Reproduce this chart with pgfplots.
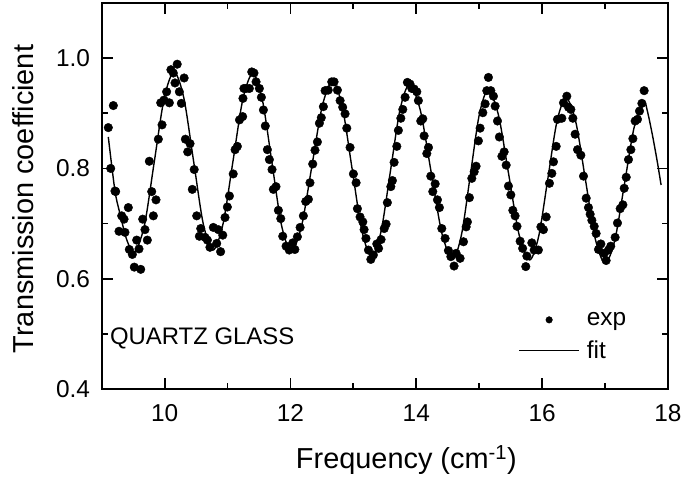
\documentclass[border=0pt]{standalone}
\usepackage{fontspec}
\setmainfont{Liberation Sans}
\usepackage{pgfplots}
\pgfplotsset{compat=1.18}
\begin{document}
\begin{tikzpicture}
\begin{axis}[
  scale only axis,
  width=566.3bp, height=386bp,
  xmin=9, xmax=18, ymin=0.4, ymax=1.1,
  xtick={10,12,14,16,18},
  ytick={0.4,0.6,0.8,1.0},
  minor x tick num=1,
  minor y tick num=1,
  tick align=inside,
  major tick length=11bp,
  minor tick length=6bp,
  axis line style={line width=1.8bp},
  every tick/.style={line width=1.8bp, black},
  /pgf/number format/assume math mode=true,
  ticklabel style={font=\fontsize{24.5}{28}\selectfont},
  xticklabel style={anchor=base, yshift=-33bp},
  yticklabel style={/pgf/number format/fixed, /pgf/number format/fixed zerofill, /pgf/number format/precision=1, anchor=east, inner sep=0pt, xshift=-11.5bp},
  xlabel={Frequency (cm\textsuperscript{-1})},
  ylabel={Transmission coefficient},
  label style={font=\fontsize{29}{34}\selectfont},
  xlabel style={at={(axis description cs:0.538,-0.2047)}, anchor=base},
  ylabel style={at={(axis description cs:-0.1208,0.492)}, anchor=base},
  legend style={draw=none, fill=none, at={(axis cs:15.62,0.539)}, anchor=north west,
    font=\fontsize{24.5}{28}\selectfont, inner sep=0pt, row sep=14bp, column sep=7bp,
    nodes={inner sep=0pt}},
  legend cell align=left,
]
\coordinate (sw) at (rel axis cs:0,0);
\coordinate (ne) at (rel axis cs:1,1);
\addplot[only marks, mark=*, mark size=4.3bp, black,
  legend image code/.code={\path[draw=none, fill=none] (0bp,0bp) -- (60bp,0bp); \fill[black] (30bp,0bp) circle (3.3bp);}]
coordinates {
(9.105,0.874) (9.143,0.800) (9.185,0.914) (9.211,0.759) (9.222,0.758) (9.275,0.686)
(9.318,0.714) (9.355,0.708) (9.370,0.684) (9.423,0.729) (9.439,0.653) (9.487,0.644)
(9.518,0.621) (9.556,0.670) (9.593,0.654) (9.620,0.617) (9.652,0.708) (9.688,0.689)
(9.725,0.670) (9.757,0.813) (9.795,0.758) (9.821,0.714) (9.863,0.743) (9.900,0.853)
(9.938,0.919) (9.959,0.879) (9.990,0.924) (10.032,0.939) (10.075,0.919) (10.100,0.979)
(10.138,0.973) (10.165,0.955) (10.200,0.989) (10.234,0.939) (10.266,0.918) (10.310,0.964)
(10.330,0.853) (10.367,0.830) (10.404,0.845) (10.440,0.762) (10.470,0.798) (10.510,0.714)
(10.552,0.677) (10.574,0.691) (10.642,0.675) (10.680,0.670) (10.720,0.657) (10.774,0.693)
(10.828,0.664) (10.853,0.689) (10.890,0.649) (10.924,0.679) (10.960,0.711) (10.997,0.730)
(11.030,0.750) (11.090,0.790) (11.120,0.834) (11.156,0.840) (11.190,0.888) (11.240,0.894)
(11.245,0.927) (11.260,0.945) (11.294,0.945) (11.347,0.945) (11.385,0.975) (11.420,0.973)
(11.453,0.957) (11.506,0.945) (11.538,0.929) (11.570,0.906) (11.600,0.877) (11.633,0.834)
(11.665,0.816) (11.707,0.798) (11.728,0.762) (11.770,0.767) (11.808,0.724) (11.846,0.709)
(11.877,0.677) (11.930,0.659) (11.980,0.652) (12.036,0.665) (12.070,0.653) (12.110,0.676)
(12.153,0.693) (12.205,0.714) (12.243,0.740) (12.285,0.744) (12.310,0.774) (12.354,0.808)
(12.390,0.833) (12.428,0.848) (12.460,0.882) (12.490,0.892) (12.523,0.912) (12.550,0.941)
(12.600,0.942) (12.656,0.957) (12.693,0.957) (12.746,0.942) (12.789,0.923) (12.830,0.911)
(12.868,0.899) (12.895,0.873) (12.947,0.838) (13.000,0.790) (13.043,0.774) (13.064,0.727)
(13.106,0.712) (13.150,0.703) (13.170,0.689) (13.200,0.673) (13.239,0.652) (13.277,0.635)
(13.318,0.643) (13.372,0.663) (13.400,0.655) (13.440,0.671) (13.490,0.691) (13.520,0.699)
(13.540,0.738) (13.595,0.767) (13.620,0.778) (13.647,0.811) (13.690,0.840) (13.715,0.869)
(13.754,0.891) (13.785,0.907) (13.822,0.929) (13.858,0.956) (13.900,0.953) (13.928,0.945)
(13.965,0.944) (14.008,0.939) (14.033,0.923) (14.071,0.886) (14.103,0.890) (14.124,0.859)
(14.167,0.827) (14.193,0.838) (14.230,0.786) (14.262,0.758) (14.300,0.772) (14.336,0.743)
(14.367,0.729) (14.405,0.691) (14.458,0.673) (14.510,0.651) (14.549,0.640) (14.600,0.623)
(14.633,0.646) (14.696,0.637) (14.750,0.667) (14.792,0.694) (14.812,0.703) (14.844,0.747)
(14.882,0.782) (14.920,0.794) (14.950,0.804) (14.987,0.850) (15.014,0.873) (15.057,0.901)
(15.094,0.917) (15.120,0.941) (15.146,0.965) (15.184,0.941) (15.226,0.931) (15.253,0.913)
(15.290,0.886) (15.320,0.857) (15.360,0.822) (15.396,0.830) (15.428,0.806) (15.464,0.768)
(15.502,0.752) (15.534,0.724) (15.570,0.714) (15.600,0.695) (15.650,0.668) (15.690,0.655)
(15.740,0.622) (15.757,0.641) (15.836,0.665) (15.873,0.652) (15.940,0.652) (15.980,0.694)
(16.020,0.689) (16.064,0.712) (16.116,0.773) (16.154,0.791) (16.180,0.812) (16.223,0.840)
(16.243,0.889) (16.313,0.891) (16.339,0.919) (16.392,0.931) (16.418,0.911) (16.456,0.907)
(16.488,0.891) (16.524,0.862) (16.562,0.834) (16.615,0.824) (16.657,0.786) (16.700,0.746)
(16.736,0.729) (16.763,0.717) (16.790,0.706) (16.827,0.695) (16.858,0.682) (16.895,0.653)
(16.933,0.663) (16.986,0.646) (17.017,0.633) (17.054,0.652) (17.090,0.659) (17.160,0.675)
(17.197,0.701) (17.240,0.727) (17.283,0.734) (17.304,0.764) (17.336,0.784) (17.372,0.816)
(17.410,0.834) (17.442,0.854) (17.478,0.886) (17.515,0.889) (17.547,0.904) (17.585,0.918)
(17.621,0.941)
};
\addlegendentry{exp}
\addplot[smooth, black, line width=1.4bp, mark=none,
  legend image code/.code={\draw[black, line width=1.4bp] (0bp,0bp) -- (60bp,0bp);}]
coordinates {
(9.105,0.857) (9.21,0.760) (9.29,0.718) (9.40,0.670) (9.52,0.648)
(9.6775,0.696) (9.835,0.8115) (9.9925,0.927) (10.15,0.975)
(10.305,0.928) (10.46,0.8135) (10.615,0.699) (10.77,0.652)
(10.9275,0.699) (11.085,0.812) (11.2425,0.925) (11.40,0.972)
(11.5525,0.925) (11.705,0.811) (11.8575,0.697) (12.01,0.650)
(12.175,0.695) (12.34,0.804) (12.505,0.913) (12.67,0.958)
(12.825,0.911) (12.98,0.799) (13.135,0.687) (13.29,0.640)
(13.44,0.686) (13.59,0.796) (13.74,0.906) (13.89,0.952)
(14.0625,0.906) (14.235,0.794) (14.4075,0.682) (14.58,0.636)
(14.72,0.681) (14.86,0.789) (15.00,0.897) (15.14,0.942)
(15.305,0.897) (15.47,0.788) (15.635,0.679) (15.80,0.634)
(15.945,0.677) (16.09,0.781) (16.235,0.885) (16.38,0.928)
(16.535,0.884) (16.69,0.778) (16.845,0.672) (17.00,0.628)
(17.155,0.670) (17.31,0.773) (17.465,0.876) (17.62,0.918)
(17.67,0.905) (17.75,0.862) (17.83,0.812) (17.89,0.770)
};
\addlegendentry{fit}
\node[anchor=base west, inner sep=0pt, font=\fontsize{24}{28}\selectfont] at (axis cs:9.13,0.4798) {QUARTZ GLASS};
\end{axis}
\pgfresetboundingbox
\path ([shift={(-101.7bp,-88bp)}]sw) rectangle ([shift={(15bp,3bp)}]ne);
\end{tikzpicture}
\end{document}
